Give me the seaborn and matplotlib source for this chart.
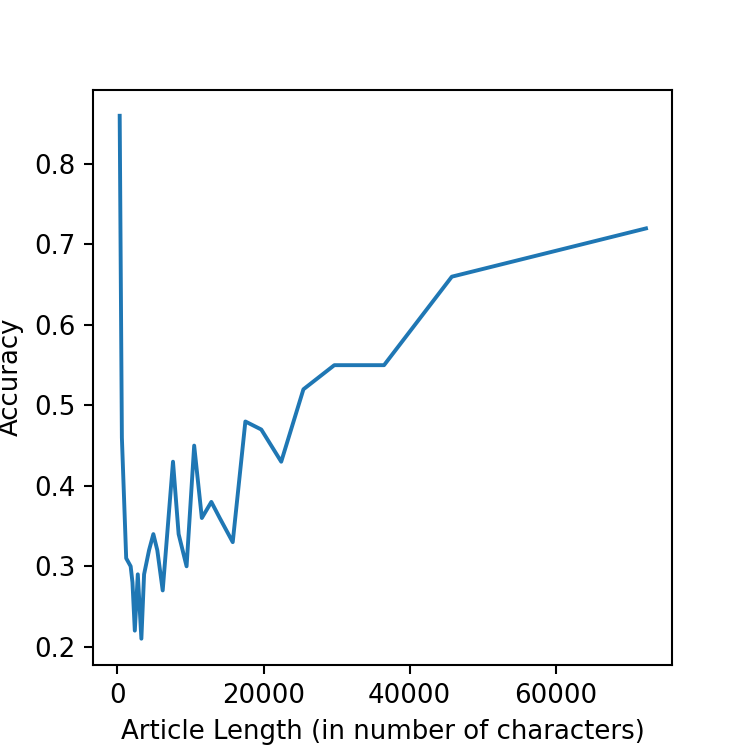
import matplotlib
matplotlib.use('Agg')
import matplotlib.pyplot as plt
import pandas as pd
import seaborn as sns

# article length (characters) vs accuracy
lengths = [300, 600, 1190, 1800, 2050, 2370, 2780, 3270, 3640, 4320,
           4910, 5450, 6190, 7600, 8370, 9460, 10500, 11550, 12850, 14000,
           15780, 17510, 19690, 22420, 25460, 29690, 36500, 45780, 72370]
accuracy = [0.86, 0.46, 0.31, 0.30, 0.28, 0.22, 0.29, 0.21, 0.29, 0.32,
            0.34, 0.32, 0.27, 0.43, 0.34, 0.30, 0.45, 0.36, 0.38, 0.36,
            0.33, 0.48, 0.47, 0.43, 0.52, 0.55, 0.55, 0.66, 0.72]

df = pd.DataFrame({'length': lengths, 'accuracy': accuracy})

# 4x4 inch figure, saved large
fig, ax = plt.subplots(figsize=(4, 4), dpi=186.75)
sns.lineplot(data=df, x='length', y='accuracy', ax=ax, color='#1f77b4', linewidth=1.5)
ax.set_xlabel('Article Length (in number of characters)')
ax.set_ylabel('Accuracy')
ax.set_xticks([0, 20000, 40000, 60000])
ax.set_yticks([0.2, 0.3, 0.4, 0.5, 0.6, 0.7, 0.8])

plt.savefig('out.png')
